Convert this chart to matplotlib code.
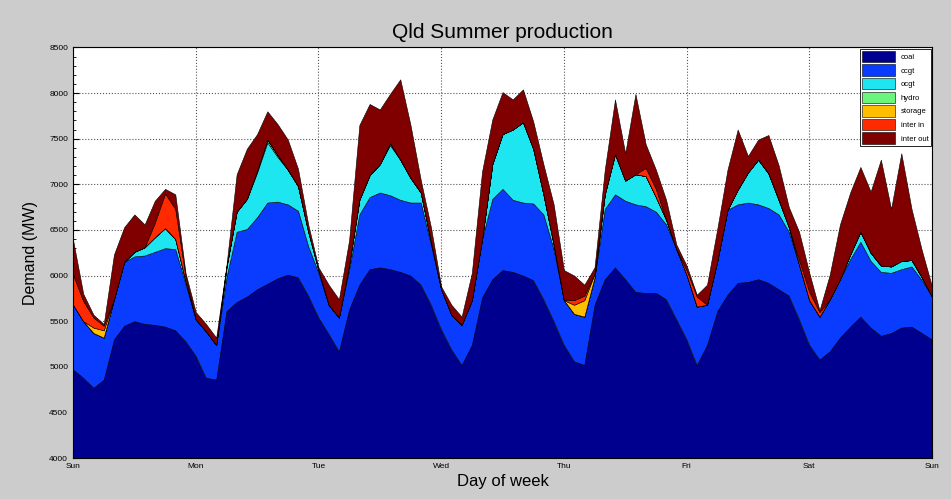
import numpy as np
import matplotlib
matplotlib.use("Agg")
import matplotlib.pyplot as plt
from matplotlib.ticker import MultipleLocator

plt.rcParams['font.family'] = ['Liberation Sans', 'DejaVu Sans']

# 2-hourly samples over one week (Sun 00:00 .. next Sun 00:00), MW
hours = np.arange(0, 169, 2)
days = ['Sun', 'Mon', 'Tue', 'Wed', 'Thu', 'Fri', 'Sat', 'Sun']

coal = [4970, 4880, 4770, 4860, 5300, 5450, 5500, 5470, 5460, 5440, 5400, 5280,
        5120, 4880, 4860, 5610, 5710, 5770, 5850, 5910, 5970, 6010, 5980, 5780,
        5540, 5360, 5170, 5630, 5900, 6070, 6090, 6070, 6040, 6000, 5900, 5680,
        5410, 5190, 5020, 5240, 5760, 5960, 6060, 6040, 6000, 5950, 5740, 5500,
        5240, 5060, 5020, 5680, 5960, 6090, 5960, 5820, 5810, 5810, 5740, 5520,
        5300, 5020, 5240, 5610, 5790, 5920, 5930, 5960, 5920, 5850, 5780, 5520,
        5240, 5080, 5170, 5320, 5440, 5550, 5430, 5340, 5370, 5430, 5440, 5370,
        5300]
ccgt = [710, 620, 600, 460, 440, 700, 710, 750, 800, 860, 890, 630,
        400, 510, 380, 370, 770, 740, 790, 890, 840, 770, 730, 540,
        490, 320, 370, 440, 770, 790, 820, 810, 790, 800, 900, 660,
        440, 380, 440, 490, 640, 880, 890, 790, 800, 840, 930, 790,
        490, 520, 530, 300, 770, 800, 860, 960, 950, 890, 820, 770,
        710, 640, 440, 550, 930, 860, 870, 820, 820, 820, 700, 600,
        490, 470, 570, 640, 740, 820, 730, 700, 660, 640, 660, 580,
        470]
ocgt = [0, 0, 0, 0, 0, 0, 50, 90, 160, 220, 110, 30,
        0, 0, 0, 110, 220, 330, 490, 660, 490, 380, 270, 160,
        30, 0, 0, 50, 160, 240, 310, 550, 440, 270, 110, 30,
        0, 0, 0, 0, 0, 380, 600, 770, 880, 600, 220, 50,
        0, 0, 0, 0, 160, 440, 220, 330, 330, 160, 50, 0,
        0, 0, 0, 0, 0, 160, 330, 490, 380, 160, 50, 0,
        0, 0, 0, 0, 50, 110, 90, 70, 70, 90, 70, 30,
        0]
hydro = [0, 0, 0, 0, 0, 0, 0, 0, 0, 0, 0, 0,
         0, 0, 0, 0, 0, 0, 20, 30, 20, 0, 0, 0,
         0, 0, 0, 0, 0, 0, 0, 20, 0, 0, 0, 0,
         0, 0, 0, 0, 0, 0, 0, 0, 0, 0, 0, 0,
         0, 0, 0, 0, 0, 0, 0, 0, 0, 0, 0, 0,
         0, 0, 0, 0, 0, 0, 0, 0, 0, 0, 0, 0,
         0, 0, 0, 0, 0, 0, 0, 0, 0, 0, 0, 0,
         0]
storage = [0, 0, 60, 80, 0, 0, 0, 0, 0, 0, 0, 0,
           0, 0, 0, 0, 0, 0, 0, 0, 0, 0, 0, 0,
           0, 0, 0, 0, 0, 0, 0, 0, 0, 0, 0, 0,
           0, 0, 0, 0, 0, 0, 0, 0, 0, 0, 0, 0,
           0, 100, 180, 40, 0, 0, 0, 0, 0, 0, 0, 0,
           0, 0, 0, 0, 0, 0, 0, 0, 0, 0, 0, 0,
           0, 0, 0, 0, 0, 0, 0, 0, 0, 0, 0, 0,
           0]
inter_in = [330, 220, 110, 50, 0, 0, 0, 0, 160, 380, 330, 50,
            0, 0, 0, 0, 0, 0, 0, 0, 0, 0, 0, 0,
            0, 0, 0, 0, 0, 0, 0, 0, 0, 0, 0, 0,
            0, 0, 0, 0, 0, 0, 0, 0, 0, 0, 0, 0,
            0, 50, 50, 0, 0, 0, 0, 0, 90, 90, 0, 0,
            50, 110, 0, 0, 0, 0, 0, 0, 0, 0, 0, 50,
            90, 50, 0, 0, 0, 0, 0, 0, 0, 0, 0, 0,
            0]
inter_out = [380, 80, 30, 20, 490, 380, 410, 250, 240, 50, 160, 40,
             80, 80, 80, 20, 410, 550, 400, 310, 340, 330, 190, 80,
             30, 220, 200, 270, 820, 780, 600, 540, 880, 580, 140, 160,
             30, 110, 90, 300, 740, 490, 460, 330, 360, 300, 330, 440,
             330, 270, 120, 70, 270, 600, 300, 880, 260, 210, 220, 50,
             50, 20, 220, 350, 440, 660, 180, 220, 420, 380, 220, 310,
             210, 20, 270, 600, 680, 710, 670, 1160, 630, 1180, 560, 300,
             110]

labels = ['coal', 'ccgt', 'ocgt', 'hydro', 'storage', 'inter in', 'inter out']
colors = ['#00008f', '#0a3cff', '#1ee6f0', '#6cf57c', '#ffbf00', '#ff2a00', '#800000']

fig = plt.figure(figsize=(9.51, 4.99), dpi=100, facecolor='#cccccc')
ax = fig.add_axes([0.0768, 0.082, 0.9032, 0.823])

x = hours / 24.0
ax.stackplot(x, coal, ccgt, ocgt, hydro, storage, inter_in, inter_out,
             colors=colors, labels=labels, edgecolor='black', linewidth=0.4)

ax.set_xlim(0, 7)
ax.set_ylim(4000, 8500)
ax.set_xticks(range(8))
ax.set_xticklabels(days)
ax.set_yticks(np.arange(4000, 8501, 500))
ax.yaxis.set_minor_locator(MultipleLocator(100))
ax.tick_params(axis='both', labelsize=6, direction='in', length=4)
ax.tick_params(axis='y', which='minor', direction='in', length=2)
ax.set_axisbelow(True)
ax.grid(True, which='major', linestyle=':', color='#555555', linewidth=0.8)

ax.set_title('Qld Summer production', fontsize=15, pad=7)
ax.set_xlabel('Day of week', fontsize=12, labelpad=3)
ax.set_ylabel('Demand (MW)', fontsize=11.5, labelpad=8)

leg = ax.legend(loc='upper right', fontsize=5.5, handlelength=4.2, handleheight=1.9,
                fancybox=False, framealpha=1, edgecolor='black',
                borderaxespad=0.15, labelspacing=0.3, borderpad=0.3)
leg.get_frame().set_linewidth(0.6)

fig.savefig('out.png', dpi=100, facecolor=fig.get_facecolor())
